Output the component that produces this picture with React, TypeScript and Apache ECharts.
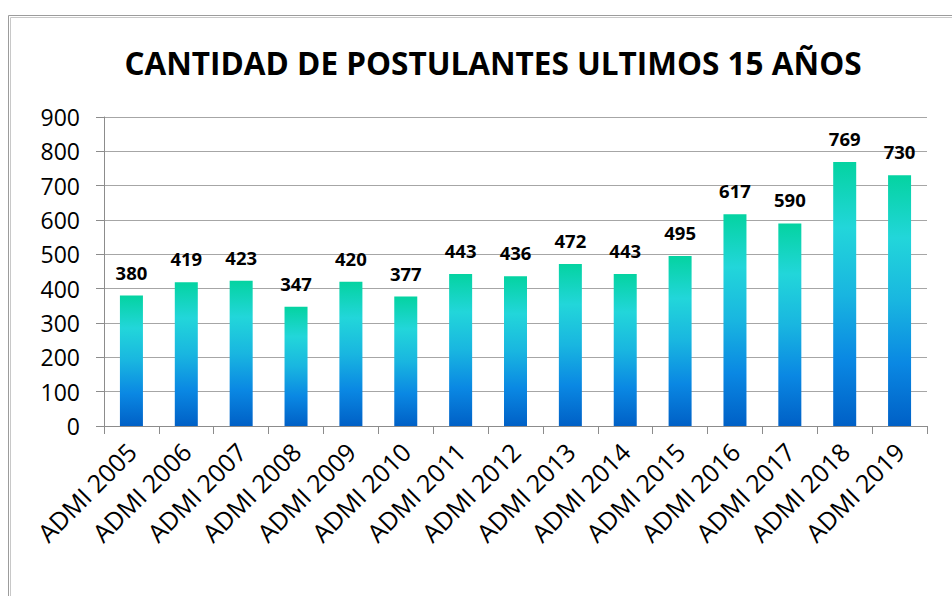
import React, { useEffect, useRef } from "react";
import * as echarts from "echarts";

const categories = [
  "ADMI 2005", "ADMI 2006", "ADMI 2007", "ADMI 2008", "ADMI 2009",
  "ADMI 2010", "ADMI 2011", "ADMI 2012", "ADMI 2013", "ADMI 2014",
  "ADMI 2015", "ADMI 2016", "ADMI 2017", "ADMI 2018", "ADMI 2019",
];
const postulantes = [380, 419, 423, 347, 420, 377, 443, 436, 472, 443, 495, 617, 590, 769, 730];
const titleText = "CANTIDAD DE POSTULANTES ULTIMOS 15 AÑOS";
const yMin = 0;
const yMax = 900;
const yInterval = 100;

const FONT = "'Open Sans', 'Noto Sans', sans-serif";

export default function App() {
  const ref = useRef<HTMLDivElement>(null);
  useEffect(() => {
    if (!ref.current) return;
    const chart = echarts.init(ref.current, undefined, { renderer: "svg" });
    chart.setOption({
      animation: false,
      backgroundColor: "#ffffff",
      title: {
        text: titleText,
        left: 488,
        top: 41,
        textAlign: "center",
        textStyle: { fontFamily: FONT, fontSize: 31.5, fontWeight: "bold", color: "#000" },
      },
      graphic: [
        { type: "rect", shape: { x: 8.5, y: 15.5, width: 1200, height: 1200 }, style: { fill: "none", stroke: "#9c9c9c", lineWidth: 1 }, silent: true },
        { type: "rect", shape: { x: 10.5, y: 17.5, width: 1200, height: 1200 }, style: { fill: "none", stroke: "#c8c8c8", lineWidth: 1 }, silent: true },
      ],
      grid: { left: 104, right: 25, top: 117, bottom: 170 },
      xAxis: {
        type: "category",
        data: categories,
        axisLine: { show: true, lineStyle: { color: "#8c8c8c", width: 1 } },
        axisTick: { show: true, length: 8, lineStyle: { color: "#8c8c8c" } },
        axisLabel: {
          rotate: 45,
          margin: 21,
          interval: 0,
          fontFamily: FONT,
          fontSize: 25,
          color: "#000",
        },
      },
      yAxis: {
        type: "value",
        min: yMin,
        max: yMax,
        interval: yInterval,
        axisLine: { show: true, lineStyle: { color: "#8c8c8c", width: 1 } },
        axisTick: { show: true, length: 8, lineStyle: { color: "#8c8c8c" } },
        splitLine: { show: true, lineStyle: { color: "#a6a6a6", width: 1 } },
        axisLabel: { margin: 24, fontFamily: FONT, fontSize: 23, color: "#000" },
      },
      series: [
        {
          type: "bar",
          data: postulantes,
          barWidth: 23,
          itemStyle: {
            color: new echarts.graphic.LinearGradient(0, 0, 0, 1, [
              { offset: 0, color: "#04D3A1" },
              { offset: 0.25, color: "#22D6DA" },
              { offset: 0.5, color: "#19B6E0" },
              { offset: 0.75, color: "#0A88E3" },
              { offset: 1, color: "#0060C6" },
            ]),
          },
          label: {
            show: true,
            position: "top",
            distance: 14,
            fontFamily: FONT,
            fontSize: 18.5,
            fontWeight: "bold",
            color: "#000",
          },
        },
      ],
    });
    return () => chart.dispose();
  }, []);
  return (
    <div style={{ position: "fixed", left: 0, top: 0, width: 952, height: 596, background: "#fff" }}>
      <div ref={ref} style={{ width: 952, height: 596 }} />
    </div>
  );
}
